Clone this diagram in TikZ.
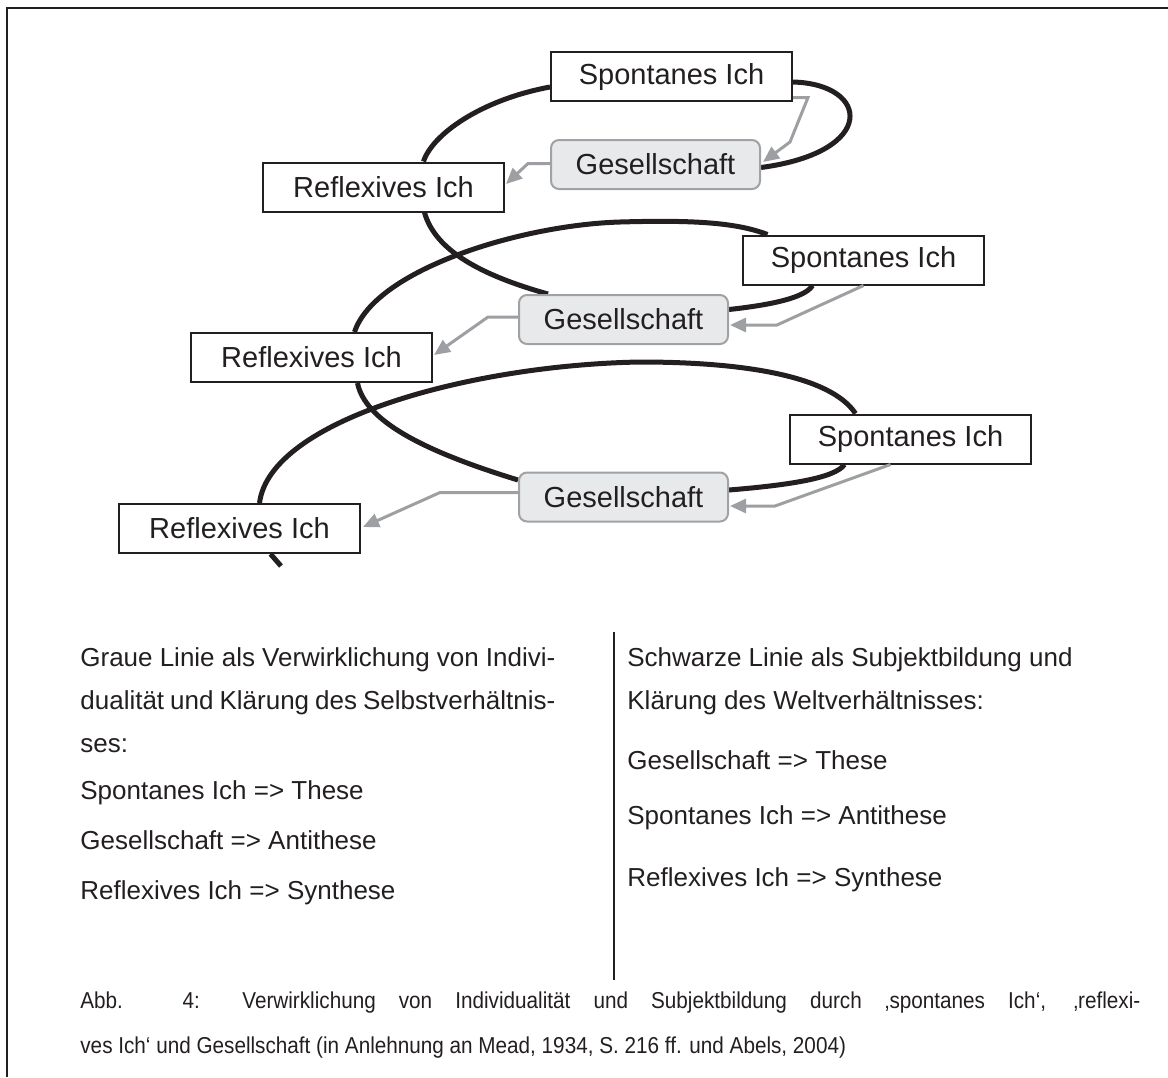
\documentclass[tikz,border=0pt]{standalone}
\usepackage{fontspec}
\setmainfont{Liberation Sans}
\newfontfamily\captfont[FakeStretch=0.9]{Liberation Sans}
\usetikzlibrary{arrows.meta,calc,backgrounds}
\definecolor{ink}{HTML}{231F20}
\definecolor{grayline}{HTML}{9D9FA2}
\definecolor{gfill}{HTML}{E8E9EB}
\definecolor{gborder}{HTML}{A0A2A5}
\begin{document}
\begin{tikzpicture}[x=0.5pt,y=-0.5pt,
 ich/.style={draw=ink,line width=1pt,fill=white,minimum width=120.5pt,minimum height=24.5pt,inner sep=0pt,font=\fontsize{14.5}{17}\selectfont,text=ink},
 ges/.style={draw=gborder,line width=1pt,fill=gfill,rounded corners=4pt,minimum width=104.5pt,minimum height=24.5pt,inner sep=0pt,font=\fontsize{14.5}{17}\selectfont,text=ink},
 bl/.style={draw=ink,line width=2.5pt},
 gl/.style={draw=grayline,line width=1.5pt,-{Triangle[length=8pt,width=7pt]}},
 body/.style={anchor=base west,inner sep=0pt,font=\fontsize{13}{15}\selectfont,text=ink},
 capt/.style={anchor=base west,inner sep=0pt,font=\captfont\fontsize{11.5}{14}\selectfont,text=ink}
]
\useasboundingbox (0,0) rectangle (1168,1077);
\draw[ink,line width=1pt] (1168,8) -- (7,8) -- (7,1077);

% nodes
\node[ich] (S1) at (671.5,76.5) {Spontanes Ich};
\node[ges] (G1) at (655.5,164.5) {Gesellschaft};
\node[ich] (R1) at (383.5,187) {Reflexives Ich};
\node[ich] (S2) at (863.5,260) {Spontanes Ich};
\node[ges] (G2) at (623.5,319.5) {Gesellschaft};
\node[ich] (R2) at (311.5,357.5) {Reflexives Ich};
\node[ich] (S3) at (910.5,439) {Spontanes Ich};
\node[ges] (G3) at (623.5,497) {Gesellschaft};
\node[ich] (R3) at (239.5,528.5) {Reflexives Ich};
\coordinate (E) at (281,566);

% black line
\begin{scope}[on background layer]
\draw[bl] ($(R1.north)+(40,0)$) .. controls (432,135) and (480,100) .. ($(S1.west)+(0,10.5)$);
\draw[bl] ($(S1.east)+(0,5.5)$) .. controls (870,84) and (878,152) .. ($(G1.east)+(0,3)$);
\draw[bl] ($(R1.south)+(41,0)$) .. controls (435,250) and (480,275) .. ($(G2.north west)+(30,0)$);
\draw[bl] ($(G2.east)+(0,-10)$) .. controls (770,305) and (805,298) .. ($(S2.south)+(-51,0)$);
\draw[bl] ($(S2.north)+(-96,0)$) .. controls (735,222) and (690,220) .. (620,222)
  .. controls (520,225) and (375,270) .. ($(R2.north)+(43,0)$);
\draw[bl] ($(R2.south)+(46,0)$) .. controls (365,420) and (420,450) .. ($(G3.west)+(0,-17)$);
\draw[bl] ($(G3.east)+(0,-7)$) .. controls (790,485) and (835,478) .. ($(S3.south)+(-66,0)$);
\draw[bl] ($(S3.north)+(-55,0)$) .. controls (830,375) and (740,362) .. (640,362)
  .. controls (470,365) and (270,420) .. ($(R3.north)+(20,0)$);
\draw[bl] ($(R3.south)+(31,0)$) -- (E);
\end{scope}

% gray line
\draw[gl] ($(S1.east)+(0,21)$) -- (808,97.5) -- (790,142) -- ($(G1.east)+(2,-2.5)$);
\draw[gl] ($(G1.west)+(0,-1)$) -- (528,163.5) -- ($(R1.east)+(1,-3)$);
\draw[gl] (S2.south) -- (777,325) -- ($(G2.east)+(1,5.5)$);
\draw[gl] ($(G2.west)+(0,-2.5)$) -- (488,317) -- ($(R2.east)+(1,-2.5)$);
\draw[gl] ($(S3.south)+(-20,0)$) -- (775,506) -- ($(G3.east)+(1,9)$);
\draw[gl] ($(G3.west)+(0,-4.5)$) -- (440,492.5) -- ($(R3.east)+(2,-1.5)$);

% text
\node[body] (l1) at (80,666) {\makebox[237.5pt][s]{Graue Linie als Verwirklichung von Indivi-}};
\node[body] (l2) at (80,709) {\makebox[237.5pt][s]{dualität und Klärung des Selbstverhältnis-}};
\node[body] (l3) at (80,752) {ses:};
\node[body] (l4) at (80,799) {Spontanes Ich => These};
\node[body] (l5) at (80,849) {Gesellschaft => Antithese};
\node[body] (l6) at (80,899) {Reflexives Ich => Synthese};

\node[body] (r1) at (627,666) {Schwarze Linie als Subjektbildung und};
\node[body] (r2) at (627,709) {Klärung des Weltverhältnisses:};
\node[body] (r3) at (627,769) {Gesellschaft => These};
\node[body] (r4) at (627,824) {Spontanes Ich => Antithese};
\node[body] (r5) at (627,886) {Reflexives Ich => Synthese};

\draw[ink,line width=1pt] (614,632) -- (614,980);

\node[capt] (c1) at (80,1008) {\makebox[530pt][s]{Abb. 4: Verwirklichung von Individualität und Subjektbildung durch ‚spontanes Ich‘, ‚reflexi-}};
\node[capt] (c2) at (80,1053) {ves Ich‘ und Gesellschaft (in Anlehnung an Mead, 1934, S. 216 ff. und Abels, 2004)};
\end{tikzpicture}
\end{document}
